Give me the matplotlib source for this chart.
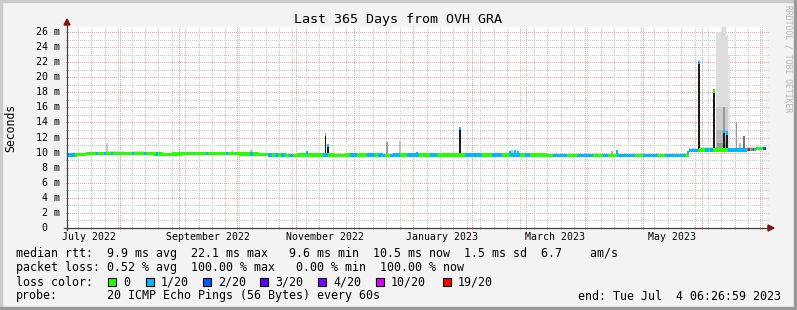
import datetime as dt

import matplotlib
matplotlib.use("Agg")
import matplotlib.pyplot as plt
from matplotlib.patches import Rectangle, Polygon
from matplotlib.transforms import blended_transform_factory

W, H = 797, 310
start = dt.datetime(2022, 7, 4, 6, 26, 59)
span_days = 365.0
ymax = 26.66

# median rtt (ms), one value per 5-day bin
bin_days = 5
median_ms = [9.70, 9.75, 9.85, 9.85, 9.90, 9.90, 9.85, 9.90, 9.85, 9.80,
             9.75, 9.80, 9.85, 9.85, 9.85, 9.85, 9.85, 9.85, 9.80, 9.80,
             9.75, 9.70, 9.70, 9.65, 9.70, 9.70, 9.70, 9.70, 9.65, 9.70,
             9.70, 9.70, 9.70, 9.65, 9.70, 9.70, 9.70, 9.70, 9.70, 9.70,
             9.70, 9.70, 9.70, 9.70, 9.70, 9.70, 9.70, 9.70, 9.70, 9.70,
             9.65, 9.65, 9.65, 9.65, 9.65, 9.65, 9.65, 9.65, 9.65, 9.65,
             9.65, 9.65, 9.65, 9.65, 9.65, 10.30, 10.35, 10.35, 10.35, 10.35,
             10.35, 10.45, 10.55]
# top of the light smoke above the median, same bins
smoke_top_ms = [9.85, 9.95, 10.10, 10.10, 10.15, 10.15, 10.10, 10.15, 10.10, 10.05,
                10.00, 10.05, 10.10, 10.10, 10.10, 10.10, 10.10, 10.10, 10.05, 10.05,
                9.95, 9.70, 9.70, 9.65, 9.70, 9.70, 9.70, 9.70, 9.65, 9.70,
                9.70, 9.70, 9.70, 9.65, 9.70, 9.70, 9.70, 9.70, 9.70, 9.70,
                9.70, 9.70, 9.70, 9.70, 9.70, 9.70, 9.70, 9.70, 9.70, 9.70,
                9.65, 9.65, 9.65, 9.65, 9.65, 9.65, 9.65, 9.65, 9.65, 9.65,
                9.65, 9.65, 9.65, 9.65, 9.65, 10.60, 10.75, 10.80, 10.60, 10.60,
                10.65, 10.70, 10.80]

# loss runs: (start day, end day, loss colour index); everything else is 0 loss
loss_runs = [(0, 4.2, 1), (15.2, 16.2, 1), (19.3, 20.4, 1), (23.0, 24.0, 1),
             (34.0, 35.0, 1), (40.2, 41.2, 1), (46.5, 47.5, 1), (72.5, 73.5, 1),
             (83.0, 84.0, 1), (95.6, 97.1, 1), (105, 107, 1), (108.5, 110, 1),
             (112, 114, 1), (116, 118, 1), (133.7, 136.3, 1), (147.8, 151.4, 1),
             (156.7, 160.8, 1), (162.4, 166, 1), (168.7, 173.9, 1), (177.5, 184, 1),
             (189.6, 193.2, 1), (207.8, 216.7, 1), (221.9, 227.2, 1), (231.3, 236.6, 1),
             (239.2, 241.8, 1), (253.8, 261.1, 1), (266.3, 274.7, 1), (279.9, 282.5, 1),
             (287.2, 296.6, 1), (300.8, 308.1, 1), (312.3, 322.7, 1), (324.8, 329.5, 1),
             (333.2, 335, 1), (336, 337.3, 1), (345.2, 355.6, 1), (355.6, 356.7, 6),
             (357, 358.5, 1), (357.8, 358.3, 6), (359.5, 360.5, 1), (363.4, 365, 2)]

# spikes of the median: (day, top ms, colour of the cap)
spikes = [(125.3, 10.15, 1), (135.0, 12.6, 0), (136.3, 11.2, 1), (182.8, 10.1, 1),
          (205.2, 13.4, 1), (231.3, 10.2, 1), (234.0, 10.35, 1), (235.5, 10.2, 1),
          (287.2, 10.3, 1), (324.5, 10.2, 1), (330.0, 22.2, 1), (337.9, 18.4, 0),
          (343.1, 13.0, 1), (344.6, 12.8, 1)]

# isolated smoke columns: (day, top ms, grey)
smoke_spikes = [(20.9, 11.3, '#c8c8c8'), (86.2, 10.4, '#d0d0d0'), (96.1, 10.3, '#bbbbbb'),
                (167.1, 11.4, '#999999'), (173.9, 11.6, '#c0c0c0'), (232.4, 10.3, '#bbbbbb'),
                (284.6, 10.2, '#aaaaaa'), (308.1, 10.0, '#bbbbbb'), (349.6, 14.1, '#999999'),
                (351.4, 11.3, '#bbbbbb'), (353.5, 12.2, '#777777')]
# smoke blocks in June: (start day, end day, bottom, top, grey)
smoke_blocks = [(338.7, 341.8, 10.4, 26.0, '#dddddd'), (341.8, 344.0, 10.4, 26.7, '#dddddd'),
                (344.0, 345.2, 10.4, 25.6, '#dddddd'), (345.2, 346.2, 10.4, 23.0, '#e4e4e4'),
                (338.7, 345.2, 10.4, 16.0, '#cdcdcd'), (338.7, 345.2, 10.4, 13.0, '#b8b8b8'),
                (342.5, 343.5, 10.4, 16.0, '#999999'), (339.5, 344.5, 10.4, 11.3, '#9a9a9a')]

loss_colors = ['#26ff00', '#00b8ff', '#0059ff', '#5e00ff', '#7e00ff', '#dd00ff', '#ff0000']
loss_labels = ['0', '1/20', '2/20', '3/20', '4/20', '10/20', '19/20']
label_months = [(2022, 7, 'July 2022'), (2022, 9, 'September 2022'), (2022, 11, 'November 2022'),
                (2023, 1, 'January 2023'), (2023, 3, 'March 2023'), (2023, 5, 'May 2023')]

MONO = 'DejaVu Sans Mono'


def day_of(d):
    return (d - start).total_seconds() / 86400.0


def fx(x):
    return x / W


def fy(y):
    return 1 - y / H


fig = plt.figure(figsize=(W / 100, H / 100), dpi=100, facecolor='#f3f3f3')
# 3d frame
fig.patches.append(Rectangle((0, fy(2)), 1, 2 / H, transform=fig.transFigure, color='#cbcbcb'))
fig.patches.append(Rectangle((0, 0), 2 / W, 1, transform=fig.transFigure, color='#cbcbcb'))
fig.patches.append(Rectangle((0, 0), 1, 3 / H, transform=fig.transFigure, color='#999999'))
fig.patches.append(Rectangle((fx(794), 0), 3 / W, 1, transform=fig.transFigure, color='#999999'))

ax = fig.add_axes([fx(67), fy(228), 699 / W, 201 / H])
ax.set_facecolor('white')
for s in ax.spines.values():
    s.set_visible(False)
ax.set_xticks([])
ax.set_yticks([])

tx = blended_transform_factory(ax.transData, ax.transAxes)
ty = blended_transform_factory(ax.transAxes, ax.transData)
# 1px on / 1px off, shifted half a pixel so the dots land on whole pixels
dash = (0.5, (1, 1))

# grid: weekly (sundays) minor, monthly major
weeks = []
d = dt.datetime(2022, 7, 10)
while d < start + dt.timedelta(days=span_days):
    weeks.append(day_of(d))
    d += dt.timedelta(days=7)
months = []
y, m = 2022, 8
while True:
    dd = day_of(dt.datetime(y, m, 1))
    if dd > span_days:
        break
    months.append(dd)
    m += 1
    if m > 12:
        y, m = y + 1, 1

grid_kw = dict(lw=0.72, linestyles=[dash], clip_on=False, zorder=1)
ax.vlines(weeks, -3 / 201, 1, transform=tx, colors='#cccccc', **grid_kw)
ax.hlines(range(1, 27, 2), -3 / 699, 1 + 2 / 699, transform=ty, colors='#cccccc', **grid_kw)
ax.vlines(months, -3 / 201, 1, transform=tx, colors='#f2a4a4', **grid_kw)
ax.hlines(range(2, 27, 2), -3 / 699, 1 + 2 / 699, transform=ty, colors='#f2a4a4', **grid_kw)

# fine cells for the median band
cell = 0.5
ncell = int(span_days / cell)
cx = [i * cell for i in range(ncell)]
cmed = [median_ms[min(int((c + cell / 2) // bin_days), len(median_ms) - 1)] for c in cx]
ctop = [smoke_top_ms[min(int((c + cell / 2) // bin_days), len(smoke_top_ms) - 1)] for c in cx]
ccol = []
for c in cx:
    lvl = 0
    for a, b, k in loss_runs:
        if a <= c + cell / 2 < b:
            lvl = k
    ccol.append(loss_colors[lvl])

hw = 0.22
ax.bar(cx, [t - mm for t, mm in zip(ctop, cmed)], bottom=cmed, width=cell, align='edge',
       color='#d6d6d6', linewidth=0, zorder=2)
for a, b, lo, hi, col in smoke_blocks:
    ax.bar(a, hi - lo, bottom=lo, width=b - a, align='edge', color=col, linewidth=0, zorder=2)
for dday, top, col in smoke_spikes:
    base = median_ms[int(dday // bin_days)]
    ax.bar(dday, top - base, bottom=base, width=0.8, color=col, linewidth=0, zorder=2)
for dday, top, k in spikes:
    base = median_ms[int(dday // bin_days)]
    ax.bar(dday, top - base, bottom=base, width=1.0, color='#1c1c1c', linewidth=0, zorder=3)
ax.bar(cx, [2 * hw] * ncell, bottom=[mm - hw for mm in cmed], width=cell, align='edge',
       color=ccol, linewidth=0, zorder=4)
for dday, top, k in spikes:
    ax.bar(dday, 0.45, bottom=top - 0.45, width=1.0, color=loss_colors[k], linewidth=0, zorder=5)

ax.set_xlim(0, span_days)
ax.set_ylim(0, ymax)

# axes with arrows
axc = '#404040'
fig.add_artist(plt.Line2D([fx(67), fx(67)], [fy(230), fy(24)], transform=fig.transFigure, color=axc, lw=0.9))
fig.add_artist(plt.Line2D([fx(64), fx(770)], [fy(228), fy(228)], transform=fig.transFigure, color=axc, lw=0.9))
fig.patches.append(Polygon([(fx(64), fy(25)), (fx(70), fy(25)), (fx(67), fy(19))], closed=True,
                           transform=fig.transFigure, color='#8b1010'))
fig.patches.append(Polygon([(fx(768), fy(225)), (fx(768), fy(231)), (fx(774), fy(228))], closed=True,
                           transform=fig.transFigure, color='#8b1010'))

# y labels
for v in range(0, 27, 2):
    if v == 0:
        ax.text(-20 / 699, v, '0', transform=ty, ha='right', va='center', fontsize=7.2, family=MONO)
    else:
        ax.text(-7 / 699, v, f'{v} m', transform=ty, ha='right', va='center', fontsize=7.2, family=MONO)

# x labels, centred half a month after the month start
for yy, mm, lab in label_months:
    pos = day_of(dt.datetime(yy, mm, 1)) + 15
    ax.text(pos, -9.5 / 201, lab, transform=tx, ha='center', va='center', fontsize=7.1, family=MONO)

fig.text(fx(398), fy(19), 'Last 365 Days from OVH GRA', ha='center', va='center', fontsize=9.6, family=MONO)
fig.text(fx(11), fy(128), 'Seconds', rotation=90, ha='center', va='center', fontsize=8.3, family=MONO)
fig.text(fx(788), fy(5), 'RRDTOOL / TOBI OETIKER', rotation=270, ha='center', va='top', fontsize=5.8,
         family=MONO, color='#b4b4b4')

fs = 8.35
fig.text(fx(16), fy(254), 'median rtt:  9.9 ms avg  22.1 ms max   9.6 ms min  10.5 ms now  1.5 ms sd  6.7    am/s',
         va='center', fontsize=fs, family=MONO)
fig.text(fx(16), fy(268), 'packet loss: 0.52 % avg  100.00 % max   0.00 % min  100.00 % now',
         va='center', fontsize=fs, family=MONO)
fig.text(fx(16), fy(282), 'loss color:', va='center', fontsize=fs, family=MONO)
sq_x = [108, 146, 203, 260, 318, 376, 443]
for sx, col, lab in zip(sq_x, loss_colors, loss_labels):
    fig.patches.append(Rectangle((fx(sx), fy(286)), 8 / W, 8 / H, transform=fig.transFigure,
                                 facecolor=col, edgecolor='black', lw=0.8))
    fig.text(fx(sx + 15), fy(282), lab, va='center', fontsize=fs, family=MONO)
fig.text(fx(16), fy(296), 'probe:', va='center', fontsize=fs, family=MONO)
fig.text(fx(107), fy(296), '20 ICMP Echo Pings (56 Bytes) every 60s', va='center', fontsize=fs, family=MONO)
fig.text(fx(781), fy(296), 'end: Tue Jul  4 06:26:59 2023', ha='right', va='center', fontsize=fs, family=MONO)

fig.savefig('out.png', dpi=100, facecolor=fig.get_facecolor())
